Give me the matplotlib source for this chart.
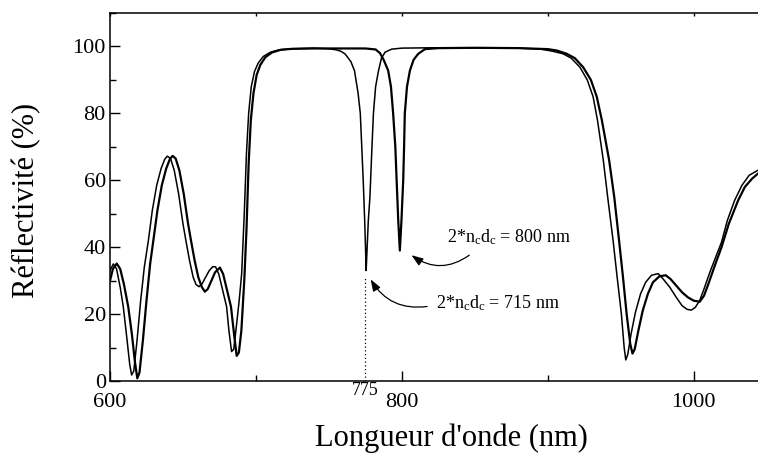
import matplotlib
matplotlib.use("Agg")
import matplotlib.pyplot as plt
from matplotlib.ticker import MultipleLocator

plt.rcParams['font.family'] = ['Liberation Serif', 'DejaVu Serif']
plt.rcParams['mathtext.fontset'] = 'custom'
plt.rcParams['mathtext.rm'] = 'Liberation Serif'
plt.rcParams['mathtext.it'] = 'Liberation Serif:italic'

# Curve 1: cavity 2*nc*dc = 715 nm (dip at 775 nm)
wl_715 = [600, 602.3, 604.5, 607, 609.1, 611.5, 613.5, 614.8, 616.3, 618.5, 621, 623.5,
          626.3, 629, 632, 635, 637.5, 639.3, 641.5, 644, 647, 650, 652, 654.5, 657, 659,
          661, 663, 665.5, 668, 670.5, 672.4, 674.5, 677, 679.9, 681.5, 683.3, 684.8,
          686.5, 688.5, 690.2, 692, 693.5, 695, 696.8, 699, 701.5, 705, 710, 716, 725,
          740, 750, 755, 758, 761, 765, 767.5, 770, 771.5, 773.5, 774.5, 775.2, 775.5,
          776.2, 777, 778.1, 779.5, 780.5, 782, 784, 786, 788.5, 793, 800, 820, 850, 880,
          895, 903, 910.5, 916, 922, 927, 931, 934, 936, 938, 941, 944.7, 947.5, 950.4,
          952.3, 953.4, 954.8, 957, 960, 963.5, 967, 971, 975.6, 979, 983.6, 988, 992,
          995.5, 998.4, 1001, 1004, 1007, 1011, 1015, 1019, 1023, 1028, 1033, 1038, 1044]
r_715 = [33.0, 35.0, 33.5, 28, 22.2, 13, 5, 1.8, 3, 12, 24, 34,
         42, 51, 58.5, 63.5, 66.3, 67.2, 66.5, 63, 56, 47, 42, 36, 31, 28.8,
         28.2, 29, 31, 33, 34.2, 34.1, 32, 27.5, 22.2, 15, 8.8, 9.5,
         16, 24, 32, 50, 68, 80, 88, 92.5, 95, 97, 98.3, 99, 99.3,
         99.5, 99.3, 99.0, 98.6, 97.8, 95.5, 92.8, 86, 80, 60, 48, 38, 33,
         40, 48, 55, 70, 80, 88, 92.8, 96.5, 98.3, 99.2, 99.5, 99.6, 99.6, 99.5,
         99.2, 98.6, 97.8, 96.5, 93.8, 90, 85, 78, 72, 66, 55, 42, 31, 20,
         10, 6.3, 8, 14, 20.5, 26, 29.5, 31.6, 32.1, 30.5, 28, 25, 22.5,
         21.4, 21.2, 22, 24, 27.5, 32.5, 37, 41.5, 48, 54, 58.5, 61.5, 63]

# Curve 2: cavity 2*nc*dc = 800 nm (dip near 798 nm)
wl_800 = [600, 602, 604.6, 607, 609.5, 612.5, 615, 617, 618.7, 620.2, 622.5, 625,
          627.5, 629.7, 632.5, 635.5, 638.5, 641, 642.9, 645, 647.5, 650.5, 653.5, 655.5,
          658, 660.5, 663, 665, 667, 669.5, 672, 675.3, 677.5, 680, 682.9, 685, 686.8,
          688.3, 690, 692, 693.5, 695, 696.5, 698.3, 700.5, 703, 706.5, 711, 717, 725,
          740, 760, 775, 782, 785, 787.5, 790.6, 792.5, 794, 795.5, 796.4, 797.5, 798.6,
          799.7, 800.9, 801.5, 802, 803.5, 805.5, 808, 811.2, 815.8, 825, 850, 880, 900,
          906, 913, 918.5, 924.2, 929.5, 933.5, 937, 939.5, 942, 945.5, 948.8, 951.5, 954,
          956.5, 958, 959.5, 962, 965, 968.5, 972, 976.5, 980.8, 984, 988, 992, 996, 1000,
          1004.1, 1007, 1010, 1014, 1019, 1024, 1030.4, 1035, 1040, 1044]
r_800 = [30, 33.5, 35.1, 33.5, 29, 22.2, 14, 6, 0.8, 2.5, 12, 24,
         35, 42, 51, 58.5, 63.5, 66.3, 67.3, 66.5, 63, 56, 47, 42,
         36, 31, 28, 26.7, 27.5, 30, 32.5, 33.9, 32, 27.5, 22.2, 14, 7.5,
         8.5, 15, 30, 45, 65, 78, 86, 91.5, 94.5, 96.8, 98.2, 99, 99.3,
         99.4, 99.4, 99.4, 99.1, 98, 96, 92.8, 88, 80, 70, 60, 48, 39,
         48, 60, 70, 80, 88, 92.8, 96, 97.8, 99.2, 99.5, 99.6, 99.5, 99.2,
         98.8, 97.8, 96.5, 93.8, 90, 85, 78, 72, 66, 55, 42, 31, 20,
         11, 8.2, 9.5, 15, 21, 26, 29.5, 31.3, 31.6, 30.5, 28.5, 26.5, 25, 24,
         23.7, 25.5, 29, 34, 40, 47, 54, 58, 60.5, 62]

x_ticks = [600, 800, 1000]
y_ticks = [0, 20, 40, 60, 80, 100]

fig = plt.figure(figsize=(7.58, 4.54), dpi=100)
ax = fig.add_axes([110/758, 73/454, 648/758, 368/454])

ax.plot(wl_715, r_715, color='black', lw=1.1)
ax.plot(wl_800, r_800, color='black', lw=1.6)

ax.plot([775, 775], [0, 31], color='black', lw=0.9, ls=(0, (1, 2)))

ax.set_xlim(600, 1044)
ax.set_ylim(0, 110)
ax.set_xticks(x_ticks)
ax.set_yticks(y_ticks)
ax.xaxis.set_minor_locator(MultipleLocator(100))
ax.yaxis.set_minor_locator(MultipleLocator(10))
ax.tick_params(which='both', direction='in', width=1.0, labelsize=16, color='black')
ax.tick_params(which='major', length=7)
ax.tick_params(axis='x', which='major', pad=8.5)
ax.tick_params(axis='y', which='major', pad=3)
ax.tick_params(which='minor', length=4)
ax.tick_params(axis='x', which='both', top=True)
for sp in ['left', 'bottom', 'top']:
    ax.spines[sp].set_linewidth(1.1)
ax.spines['right'].set_visible(False)

# top ticks shorter
for t in ax.xaxis.get_major_ticks() + ax.xaxis.get_minor_ticks():
    t.tick2line.set_markersize(2.5)

ax.annotate('775', xy=(775, 0), xycoords=('data', 'axes fraction'),
            xytext=(0, -6.5), textcoords='offset points',
            ha='center', va='center', fontsize=13)

ax.text(830.8, 41.6, r'2*n$_\mathrm{c}$d$_\mathrm{c}$ = 800 nm', fontsize=13,
        ha='left', va='baseline')
ax.text(823.1, 21.7, r'2*n$_\mathrm{c}$d$_\mathrm{c}$ = 715 nm', fontsize=13,
        ha='left', va='baseline')

ax.annotate('', xy=(805, 38.1), xytext=(847.7, 38.1),
            arrowprops=dict(arrowstyle='-|>,head_length=0.7,head_width=0.25',
                            connectionstyle='arc3,rad=-0.38', color='black', lw=0.9))
ax.annotate('', xy=(777.6, 31.1), xytext=(819.2, 22.4),
            arrowprops=dict(arrowstyle='-|>,head_length=0.7,head_width=0.25',
                            connectionstyle='arc3,rad=-0.35', color='black', lw=0.9))

fig.text(451.5/758, (454-446)/454, "Longueur d'onde (nm)", fontsize=22,
         ha='center', va='baseline')
fig.text(34/758, 1 - 200/454, 'Réflectivité (%)', fontsize=22, rotation=90,
         rotation_mode='anchor', ha='center', va='baseline')

fig.savefig('out.png', dpi=100)
